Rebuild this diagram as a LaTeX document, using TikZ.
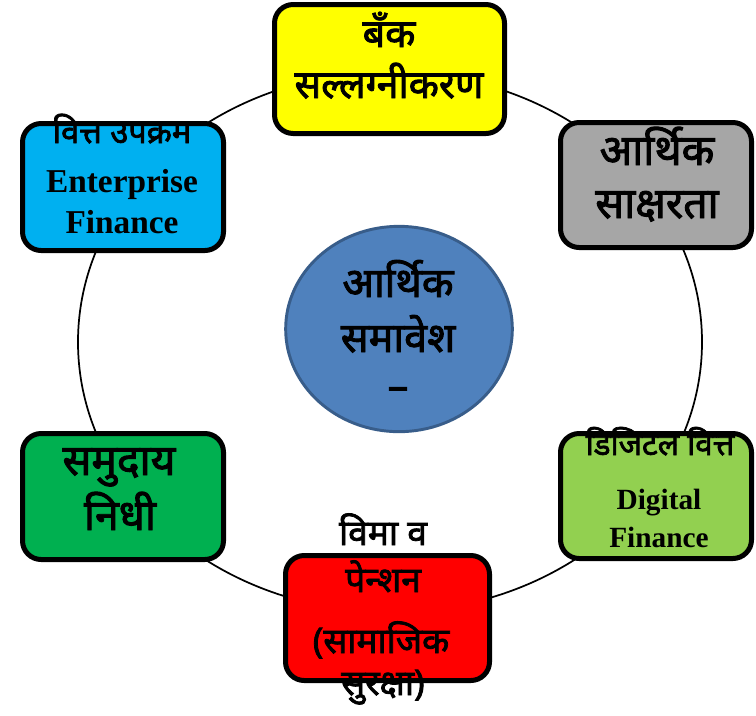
\documentclass[tikz,border=0pt]{standalone}
\usepackage{fontspec}
\usetikzlibrary{shapes.geometric}
\newfontfamily\dev[Script=Devanagari,FakeBold=2.2]{Noto Sans}
\newfontfamily\tnr{Liberation Serif}
\definecolor{cyel}{HTML}{FFFF00}
\definecolor{cblue}{HTML}{00B0F0}
\definecolor{cgray}{HTML}{A6A6A6}
\definecolor{cgreen}{HTML}{00B050}
\definecolor{clgreen}{HTML}{92D050}
\definecolor{cred}{HTML}{FF0000}
\definecolor{ccirc}{HTML}{4F81BD}
\definecolor{ccircb}{HTML}{385D8A}
\tikzset{
  box/.style={draw=black, line width=3.75pt, rounded corners=14pt, inner sep=0pt},
  dv/.style={anchor=base, inner sep=0pt, font=\dev\fontsize{#1}{#1}\selectfont},
  dv/.default=29,
  lt/.style={anchor=base, inner sep=0pt, font=\tnr\bfseries\fontsize{#1}{#1}\selectfont},
  lt/.default=22,
  ring/.style={draw=black, line width=1.3pt}
}
\begin{document}
\begin{tikzpicture}[x=0.75pt, y=-0.75pt]
\useasboundingbox (0,0) rectangle (756,715);
% ring
\draw[ring] (390,342) ellipse [x radius=312, y radius=270];
% boxes
\node[box, fill=cyel, minimum width=172.5pt, minimum height=96.75pt] (bank) at (389.5,69) {};
\node[box, fill=cblue, minimum width=150.75pt, minimum height=95.25pt] (ent) at (123,187) {};
\node[box, fill=cgray, minimum width=143.25pt, minimum height=93.75pt] (lit) at (656,185) {};
\node[box, fill=cgreen, minimum width=150.75pt, minimum height=94.5pt] (comm) at (123,496.5) {};
\node[box, fill=clgreen, minimum width=143.25pt, minimum height=93.75pt] (dig) at (656,496) {};
\node[box, fill=cred, minimum width=153pt, minimum height=93.75pt] (ins) at (387.5,618) {};
\node[draw=ccircb, line width=2.2pt, fill=ccirc, ellipse, minimum width=170pt, minimum height=154pt, inner sep=0pt] (core) at (399,329) {};
% texts
\node[dv=29.5] (t1a) at (389,47) {बँक};
\node[dv=29.5] (t1b) at (389,98) {सल्लग्नीकरण};
\node[dv=24.5] (t2a) at (122,143) {वित्त उपक्रम};
\node[lt=25] (t2b) at (122,192) {Enterprise};
\node[lt=25] (t2c) at (122,233) {Finance};
\node[dv=32] (t3a) at (657,165) {आर्थिक};
\node[dv=32] (t3b) at (657,218) {साक्षरता};
\node[dv=31] (t4a) at (398,297) {आर्थिक};
\node[dv=31] (t4b) at (398,352) {समावेश};
\node[dv=31] (t4c) at (398,400) {–};
\node[dv=32] (t5a) at (119,475) {समुदाय};
\node[dv=32] (t5b) at (120,530) {निधी};
\node[dv=23.5] (t6a) at (660,455) {डिजिटल वित्त};
\node[lt] (t6b) at (659,509) {Digital};
\node[lt] (t6c) at (659,547) {Finance};
\node[dv=26.5] (t7a) at (383,545) {विमा व};
\node[dv=26.5] (t7b) at (383,592) {पेन्शन};
\node[dv=26.5] (t7c) at (381,653) {(सामाजिक};
\node[dv=26.5] (t7d) at (383,695) {सुरक्षा)};
\end{tikzpicture}
\end{document}
